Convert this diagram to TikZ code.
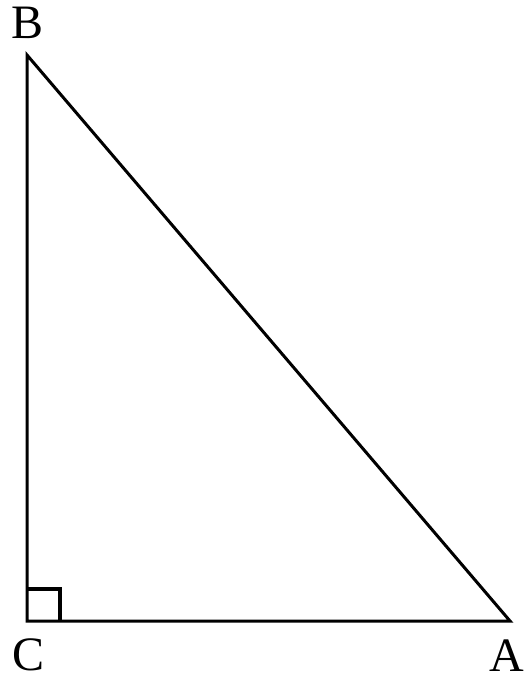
\documentclass[tikz,border=0pt]{standalone}
\usepackage{fontspec}
\setmainfont{Liberation Serif}
\begin{document}
\begin{tikzpicture}[x=1pt,y=-1pt,
  side/.style={line width=3pt,line join=miter},
  lbl/.style={font=\fontsize{48}{48}\selectfont,inner sep=0pt}]
\useasboundingbox (0,0) rectangle (523,682);
\coordinate (B) at (27,55);
\coordinate (C) at (27,621);
\coordinate (A) at (510,621);
\draw[side] (B) -- (C) -- (A) -- cycle;
\draw[line width=3.5pt] (27,589) -- (60,589) -- (60,621);
\node[lbl] (lB) at (28,23) {B};
\node[lbl] (lC) at (29,655) {C};
\node[lbl] (lA) at (507,656) {A};
\end{tikzpicture}
\end{document}
